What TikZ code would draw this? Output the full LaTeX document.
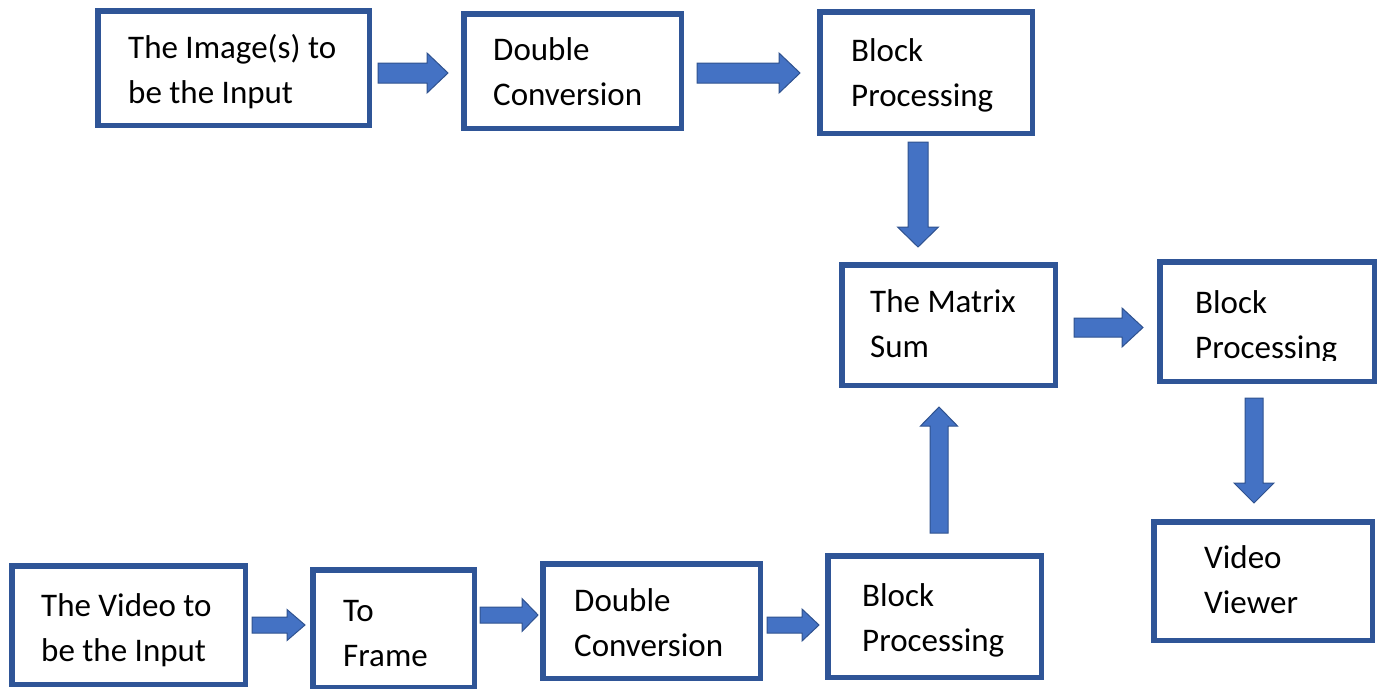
\documentclass[tikz,border=0pt]{standalone}
\usepackage{fontspec}
\setmainfont{Carlito}
\usetikzlibrary{calc}

\definecolor{boxline}{HTML}{2F5597}
\definecolor{arrowfill}{HTML}{4472C4}
\definecolor{arrowline}{HTML}{2F528F}

\tikzset{
  stage/.style={rectangle, draw=boxline, line width=5.5pt, fill=white, inner sep=0pt},
  caption/.style={anchor=base west, inner sep=0pt, text=black,
    font=\fontsize{33}{45}\selectfont},
  arrshaft/.store in=\arrowshaft,
  arrhead/.store in=\arrowhead,
  arrheadlen/.store in=\arrowheadlen,
  arrshaft=9pt, arrhead=20pt, arrheadlen=20pt,
  % a filled block arrow from the start point to the target point
  blockarrow/.style={draw=arrowline, fill=arrowfill, line width=1pt, line join=miter,
    to path={
      ($(\tikztostart)!\arrowshaft!90:(\tikztotarget)$)
      -- ($($(\tikztotarget)!\arrowheadlen!(\tikztostart)$)!\arrowshaft!90:(\tikztotarget)$)
      -- ($($(\tikztotarget)!\arrowheadlen!(\tikztostart)$)!\arrowhead!90:(\tikztotarget)$)
      -- (\tikztotarget)
      -- ($($(\tikztotarget)!\arrowheadlen!(\tikztostart)$)!\arrowhead!-90:(\tikztotarget)$)
      -- ($($(\tikztotarget)!\arrowheadlen!(\tikztostart)$)!\arrowshaft!-90:(\tikztotarget)$)
      -- ($(\tikztostart)!\arrowshaft!-90:(\tikztotarget)$)
      -- cycle}}
}

\begin{document}
\begin{tikzpicture}[x=1pt, y=-1pt]
\useasboundingbox (0,0) rectangle (1386,688);
\clip (0,0) rectangle (1386,688);

% image branch
\node[stage, minimum width=271.5pt, minimum height=114.5pt] (img) at (233.5,68) {};
\node[stage, minimum width=217.5pt, minimum height=114.5pt] (dc1) at (572.5,71) {};
\node[stage, minimum width=212.5pt, minimum height=121.5pt] (bp1) at (926,72.5) {};

% merging and output
\node[stage, minimum width=213.5pt, minimum height=120.5pt] (sum) at (948.5,325) {};
\node[stage, minimum width=214.5pt, minimum height=119.5pt] (bp2) at (1267,321.5) {};
\node[stage, minimum width=218.5pt, minimum height=118.5pt] (vv) at (1263,581) {};

% video branch
\node[stage, minimum width=233.5pt, minimum height=118.5pt] (vin) at (128.5,625) {};
\node[stage, minimum width=161.5pt, minimum height=117.5pt] (tf) at (393.5,628.5) {};
\node[stage, minimum width=217.5pt, minimum height=114.5pt] (dc2) at (651.5,621) {};
\node[stage, minimum width=213.5pt, minimum height=121.5pt] (bp3) at (934.5,616.5) {};

% labels
\node[caption] (img-t) at (128,58) {\parbox[t]{240pt}{The Image(s) to\\be the Input}};
\node[caption] (dc1-t) at (493,60) {\parbox[t]{190pt}{Double\\Conversion}};
\node[caption] (bp1-t) at (851,61) {\parbox[t]{180pt}{Block\\Processing}};
\node[caption] (sum-t) at (870,312) {\parbox[t]{180pt}{The Matrix\\Sum}};
\begin{scope}
  % the second line of this label is cut just under its baseline
  \clip (1160,262) rectangle (1374,360.5);
  \node[caption] (bp2-t) at (1195,313) {\parbox[t]{170pt}{Block\\Processing}};
\end{scope}
\node[caption] (vv-t) at (1204,568) {\parbox[t]{160pt}{Video\\Viewer}};
\node[caption] (vin-t) at (41,616) {\parbox[t]{200pt}{The Video to\\be the Input}};
\node[caption] (tf-t) at (343,621) {\parbox[t]{120pt}{To\\Frame}};
\node[caption] (dc2-t) at (574,611) {\parbox[t]{190pt}{Double\\Conversion}};
\node[caption] (bp3-t) at (862,606) {\parbox[t]{170pt}{Block\\Processing}};

% arrow end points
\coordinate (a1s) at (378,73);    \coordinate (a1e) at (448,73);
\coordinate (a2s) at (697,73);    \coordinate (a2e) at (800,73);
\coordinate (a3s) at (918,142);   \coordinate (a3e) at (918,247);
\coordinate (a4s) at (1074,327.5);\coordinate (a4e) at (1143,327.5);
\coordinate (a5s) at (1254,398);  \coordinate (a5e) at (1254,503);
\coordinate (a6s) at (939,533);   \coordinate (a6e) at (939,407);
\coordinate (a7s) at (252,625);   \coordinate (a7e) at (305,625);
\coordinate (a8s) at (480,615);   \coordinate (a8e) at (538,615);
\coordinate (a9s) at (767,625);   \coordinate (a9e) at (819,625);

% arrows
\draw[blockarrow, arrshaft=10pt, arrhead=20pt, arrheadlen=21pt] (a1s) to (a1e);
\draw[blockarrow, arrshaft=10pt, arrhead=20pt, arrheadlen=21pt] (a2s) to (a2e);
\draw[blockarrow, arrshaft=10pt, arrhead=20.5pt, arrheadlen=20pt] (a3s) to (a3e);
\draw[blockarrow, arrshaft=9.5pt, arrhead=19.5pt, arrheadlen=21pt] (a4s) to (a4e);
\draw[blockarrow, arrshaft=9pt, arrhead=20pt, arrheadlen=20pt] (a5s) to (a5e);
\draw[blockarrow, arrshaft=9pt, arrhead=18.5pt, arrheadlen=19pt] (a6s) to (a6e);
\draw[blockarrow, arrshaft=8pt, arrhead=15.5pt, arrheadlen=18pt] (a7s) to (a7e);
\draw[blockarrow, arrshaft=8pt, arrhead=16.5pt, arrheadlen=16pt] (a8s) to (a8e);
\draw[blockarrow, arrshaft=8pt, arrhead=16pt, arrheadlen=17pt] (a9s) to (a9e);
\end{tikzpicture}
\end{document}
